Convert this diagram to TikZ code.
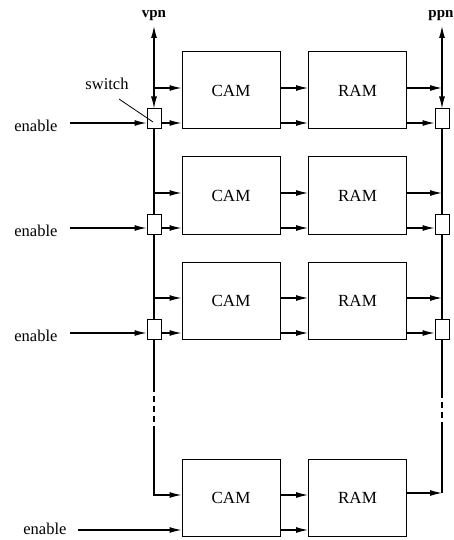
\documentclass[tikz,border=0pt]{standalone}
\usepackage{fontspec}
\setmainfont{Liberation Serif}
\usetikzlibrary{arrows.meta}
\begin{document}
\begin{tikzpicture}[x=1pt,y=-1pt,
  line width=1.1pt,
  arr/.style={-{Latex[length=12pt,width=6pt]}},
  darr/.style={{Latex[length=12pt,width=6pt]}-{Latex[length=12pt,width=6pt]}},
  blk/.style={draw,line width=1pt,minimum width=98pt,minimum height=77pt,inner sep=0pt,font=\fontsize{17}{20}\selectfont},
  sw/.style={draw,line width=1pt,minimum width=14pt,minimum height=20pt,inner sep=0pt},
  lbl/.style={inner sep=0pt,font=\fontsize{16.5}{20}\selectfont},
  bus/.style={font=\fontsize{15}{18}\selectfont\bfseries,inner sep=0pt}]
\useasboundingbox (0,0) rectangle (453,540);

% top labels
\node[bus,anchor=south] (vpn) at (154,21) {vpn};
\node[bus,anchor=south] (ppn) at (441,21) {ppn};

% rows 1..3
\foreach \r/\yu/\yl in {1/88/123,2/193/228,3/298/333}{
  \node[blk] (cam\r) at (231,\yu+2.5) {CAM};
  \node[blk] (ram\r) at (357.5,\yu+2.5) {RAM};
  \node[sw] (swl\r) at (154,\yl-4) {};
  \node[sw] (swr\r) at (442,\yl-4) {};
  \coordinate (lu\r) at (154,\yu);
  \coordinate (ru\r) at (442,\yu);
  \coordinate (ein\r) at (70,\yl);
  \node[lbl,anchor=east] (en\r) at (58,\yl+3) {enable};
  \draw[arr] (lu\r) -- (lu\r -| cam\r.west);
  \draw[arr] (ein\r) -- (ein\r -| swl\r.west);
  \draw[arr] (ein\r -| swl\r.east) -- (ein\r -| cam\r.west);
  \draw[arr] (lu\r -| cam\r.east) -- (lu\r -| ram\r.west);
  \draw[arr] (ein\r -| cam\r.east) -- (ein\r -| ram\r.west);
  \draw[arr] (lu\r -| ram\r.east) -- (ru\r);
  \draw[arr] (ein\r -| ram\r.east) -- (ein\r -| swr\r.west);
}

% row 4
\node[blk] (cam4) at (231,497.5) {CAM};
\node[blk] (ram4) at (357.5,497.5) {RAM};
\coordinate (lu4) at (154,495);
\coordinate (ru4) at (442,493);
\coordinate (ein4) at (78,530);
\node[lbl,anchor=east] (en4) at (67,529) {enable};
\draw[arr] (ein4) -- (ein4 -| cam4.west);
\draw[arr] (lu4 -| cam4.east) -- (lu4 -| ram4.west);
\draw[arr] (ein4 -| cam4.east) -- (ein4 -| ram4.west);
\draw[arr] (ru4 -| ram4.east) -- (ru4);

% left bus
\draw[darr] ([yshift=-5pt]vpn.south) -- (swl1.north);
\draw (swl1.south) -- (swl2.north);
\draw (swl2.south) -- (swl3.north);
\coordinate (ld1) at (154,386);
\coordinate (ld2) at (154,430);
\draw (swl3.south) -- (ld1);
\draw[dashed,dash pattern=on 6pt off 4pt] (ld1) -- (ld2);
\draw[arr] (ld2) -- (lu4) -- (lu4 -| cam4.west);

% right bus
\draw[darr] ([yshift=-5pt]ppn.south -| swr1.north) -- (swr1.north);
\draw (swr1.south) -- (swr2.north);
\draw (swr2.south) -- (swr3.north);
\coordinate (rd1) at (442,392);
\coordinate (rd2) at (442,428);
\draw (swr3.south) -- (rd1);
\draw[dashed,dash pattern=on 6pt off 4pt] (rd1) -- (rd2);
\draw (rd2) -- (ru4);

% switch label
\node[lbl] (swlab) at (107,84) {switch};
\coordinate (swtip) at (153,122);
\draw[line width=0.8pt] (119,99) -- (swtip);
\end{tikzpicture}
\end{document}
